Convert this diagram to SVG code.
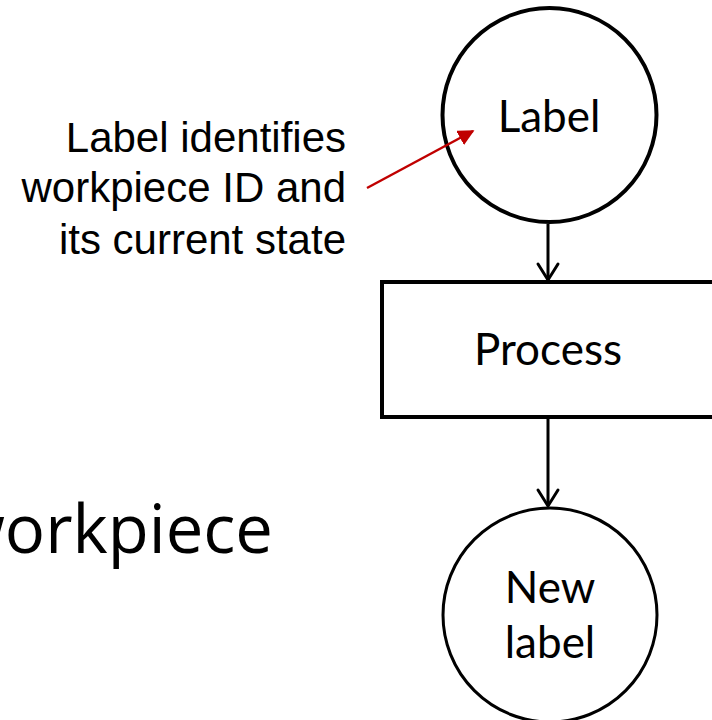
<svg xmlns="http://www.w3.org/2000/svg" width="712" height="720" viewBox="0 0 712 720">
  <style>
    .node { fill: #ffffff; stroke: #000000; }
    .nlabel { font-family: Lato, "Open Sans", sans-serif; font-size: 44px; fill: #000000; text-anchor: middle; }
    .note { font-family: "Liberation Sans", Arial, sans-serif; font-size: 42px; fill: #000000; text-anchor: end; }
    .flow { stroke: #000000; stroke-width: 3; fill: none; }
    .head { stroke: #000000; stroke-width: 3; fill: none; stroke-linecap: round; stroke-linejoin: miter; }
  </style>
  <defs>
    <marker id="redHead" viewBox="0 0 10 10" refX="9" refY="5" markerWidth="6.5" markerHeight="6.5" orient="auto" markerUnits="strokeWidth">
      <path d="M0,0 L10,5 L0,10 Z" fill="#c00000"/>
    </marker>
  </defs>
  <rect width="712" height="720" fill="#ffffff"/>

  <!-- slide title, running off the left edge -->
  <text x="273" y="553" font-family="'Open Sans', 'Noto Sans', sans-serif" font-size="67" fill="#000000" text-anchor="end">workpiece</text>

  <!-- annotation -->
  <g id="note">
    <text class="note" x="346" y="152">Label identifies</text>
    <text class="note" x="346" y="202">workpiece ID and</text>
    <text class="note" x="346" y="254">its current state</text>
  </g>

  <g id="label">
    <circle class="node" cx="549.5" cy="115" r="107" stroke-width="4"/>
    <text class="nlabel" x="549" y="132">Label</text>
  </g>

  <g id="process">
    <rect class="node" x="382" y="282" width="340" height="135" stroke-width="4"/>
    <text class="nlabel" x="548" y="365">Process</text>
  </g>

  <g id="new-label">
    <circle class="node" cx="550" cy="615" r="107" stroke-width="3"/>
    <text class="nlabel" x="550" y="603" font-size="42">New</text>
    <text class="nlabel" x="550" y="658" font-size="42">label</text>
  </g>

  <g id="connectors">
    <line class="flow" x1="548" y1="224" x2="548" y2="280"/>
    <path class="head" d="M538,264 L548,280 L558,264"/>
    <line class="flow" x1="548" y1="419" x2="548" y2="506"/>
    <path class="head" d="M538,490 L548,506 L558,490"/>
    <line x1="367" y1="188" x2="473" y2="131" stroke="#c00000" stroke-width="2.5" marker-end="url(#redHead)"/>
  </g>
</svg>
